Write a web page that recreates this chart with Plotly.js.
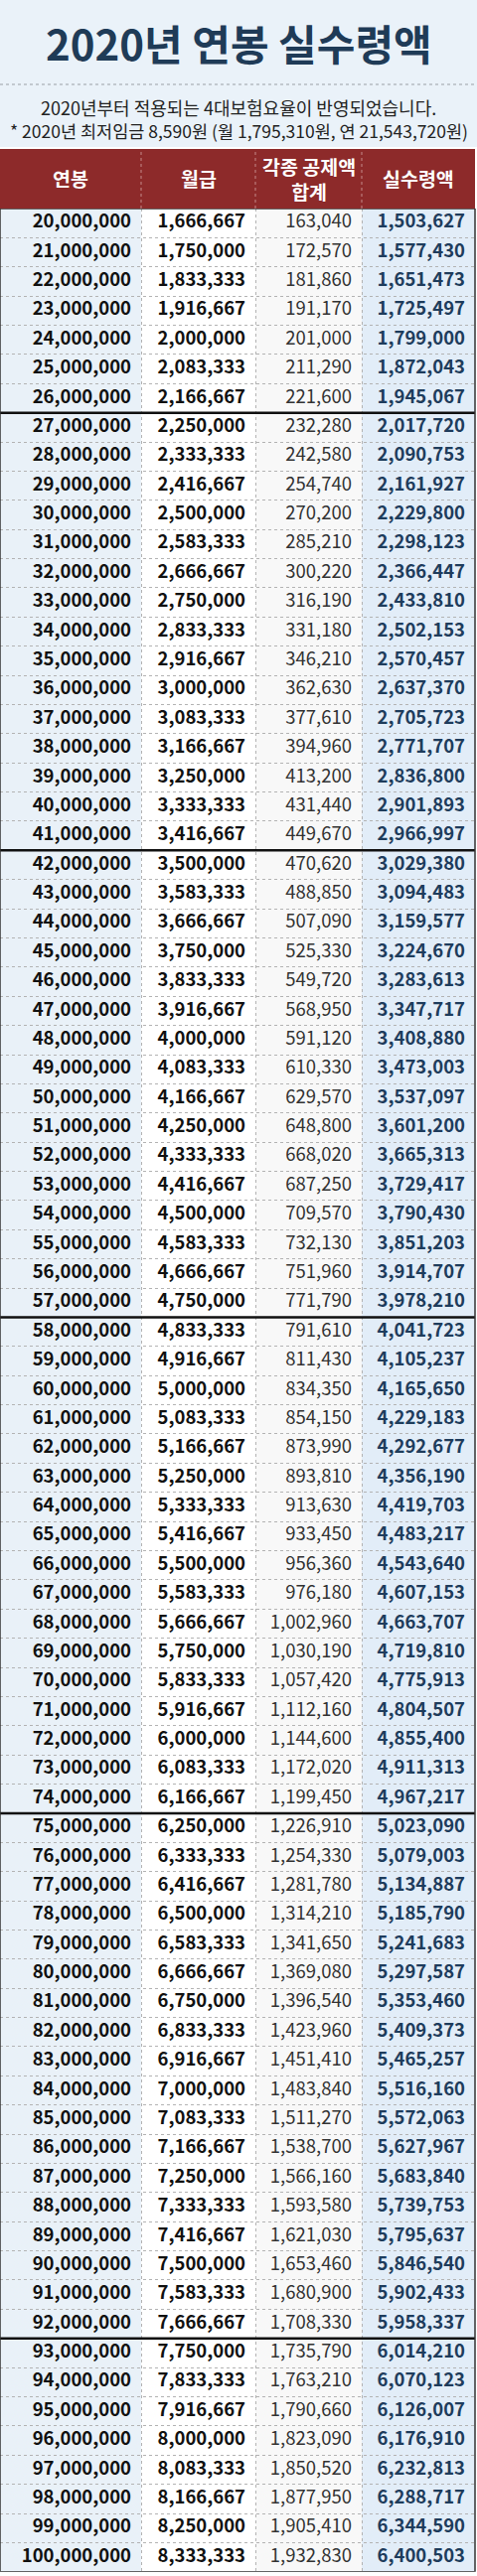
<!DOCTYPE html>
<html>
<head>
<meta charset="utf-8">
<script src="https://cdn.plot.ly/plotly-3.0.1.min.js"></script>
<style>
html,body{margin:0;padding:0;background:#fff;}
#chart{width:480px;height:2594px;}
</style>
</head>
<body>
<div id="chart"></div>
<script>
// ---- data ----
const annualSalary = [20000000,21000000,22000000,23000000,24000000,25000000,26000000,27000000,28000000,29000000,30000000,31000000,32000000,33000000,34000000,35000000,36000000,37000000,38000000,39000000,40000000,41000000,42000000,43000000,44000000,45000000,46000000,47000000,48000000,49000000,50000000,51000000,52000000,53000000,54000000,55000000,56000000,57000000,58000000,59000000,60000000,61000000,62000000,63000000,64000000,65000000,66000000,67000000,68000000,69000000,70000000,71000000,72000000,73000000,74000000,75000000,76000000,77000000,78000000,79000000,80000000,81000000,82000000,83000000,84000000,85000000,86000000,87000000,88000000,89000000,90000000,91000000,92000000,93000000,94000000,95000000,96000000,97000000,98000000,99000000,100000000];
const monthlyPay = [1666667,1750000,1833333,1916667,2000000,2083333,2166667,2250000,2333333,2416667,2500000,2583333,2666667,2750000,2833333,2916667,3000000,3083333,3166667,3250000,3333333,3416667,3500000,3583333,3666667,3750000,3833333,3916667,4000000,4083333,4166667,4250000,4333333,4416667,4500000,4583333,4666667,4750000,4833333,4916667,5000000,5083333,5166667,5250000,5333333,5416667,5500000,5583333,5666667,5750000,5833333,5916667,6000000,6083333,6166667,6250000,6333333,6416667,6500000,6583333,6666667,6750000,6833333,6916667,7000000,7083333,7166667,7250000,7333333,7416667,7500000,7583333,7666667,7750000,7833333,7916667,8000000,8083333,8166667,8250000,8333333];
const deductions = [163040,172570,181860,191170,201000,211290,221600,232280,242580,254740,270200,285210,300220,316190,331180,346210,362630,377610,394960,413200,431440,449670,470620,488850,507090,525330,549720,568950,591120,610330,629570,648800,668020,687250,709570,732130,751960,771790,791610,811430,834350,854150,873990,893810,913630,933450,956360,976180,1002960,1030190,1057420,1112160,1144600,1172020,1199450,1226910,1254330,1281780,1314210,1341650,1369080,1396540,1423960,1451410,1483840,1511270,1538700,1566160,1593580,1621030,1653460,1680900,1708330,1735790,1763210,1790660,1823090,1850520,1877950,1905410,1932830];
const netPay = [1503627,1577430,1651473,1725497,1799000,1872043,1945067,2017720,2090753,2161927,2229800,2298123,2366447,2433810,2502153,2570457,2637370,2705723,2771707,2836800,2901893,2966997,3029380,3094483,3159577,3224670,3283613,3347717,3408880,3473003,3537097,3601200,3665313,3729417,3790430,3851203,3914707,3978210,4041723,4105237,4165650,4229183,4292677,4356190,4419703,4483217,4543640,4607153,4663707,4719810,4775913,4804507,4855400,4911313,4967217,5023090,5079003,5134887,5185790,5241683,5297587,5353460,5409373,5465257,5516160,5572063,5627967,5683840,5739753,5795637,5846540,5902433,5958337,6014210,6070123,6126007,6176910,6232813,6288717,6344590,6400503];
const groupEndSalaries = [26000000,41000000,57000000,74000000,92000000];
const headerLabels = ["연봉","월급","각종 공제액<br>합계","실수령액"];
const titleText = "2020년 연봉 실수령액";
const noteLine1 = "2020년부터 적용되는 4대보험요율이 반영되었습니다.";
const noteLine2 = "* 2020년 최저임금 8,590원 (월 1,795,310원, 연 21,543,720원)";

// ---- layout constants ----
const W = 480, H = 2594;
const tableTop = 150, headerH = 60, rowH = 29.38;
const colEdges = [0, 142, 257, 364, 478];
const textPad = 10;
const bodyTop = tableTop + headerH;
const nRows = annualSalary.length;
const tableBottom = bodyTop + rowH * nRows;
const py = p => 1 - p / H;
const FONT = "Noto Sans CJK KR, Noto Sans, sans-serif";
const BODY_SIZE = 18.5;

const fmt = n => n.toLocaleString('en-US');
const rowIdx = annualSalary.map((_, i) => i);

const colStyles = [
  {vals: annualSalary, color: '#111111', weight: 'bold', fill: '#e9f1f8'},
  {vals: monthlyPay,   color: '#111111', weight: 'bold', fill: '#ffffff'},
  {vals: deductions,   color: '#333333', weight: 'normal', fill: '#f8f8f8'},
  {vals: netPay,       color: '#1e3c5c', weight: 'bold', fill: '#e2edf8'}
];

const traces = colStyles.map((c, k) => ({
  type: 'scatter', mode: 'text',
  x: rowIdx.map(() => colEdges[k + 1] - textPad),
  y: rowIdx,
  text: c.vals.map(fmt),
  textposition: 'middle left',
  textfont: {family: FONT, size: BODY_SIZE, color: c.color, weight: c.weight},
  hoverinfo: 'skip', cliponaxis: false
}));

const shapes = [
  {type: 'rect', xref: 'paper', yref: 'paper', x0: 0, x1: 1, y0: py(148), y1: py(0),
   fillcolor: '#eaf2f9', line: {width: 0}, layer: 'below'},
  {type: 'line', xref: 'paper', yref: 'paper', x0: 0, x1: 1, y0: py(85), y1: py(85),
   line: {color: '#9aa0a6', width: 1, dash: 'dot'}, layer: 'below'},
  // header band
  {type: 'rect', xref: 'x', yref: 'paper', x0: colEdges[0], x1: colEdges[4], y0: py(bodyTop), y1: py(tableTop),
   fillcolor: '#8d2a2a', line: {width: 0}, layer: 'below'}
];
// column fills
colStyles.forEach((c, k) => {
  shapes.push({type: 'rect', xref: 'x', yref: 'y', x0: colEdges[k], x1: colEdges[k + 1], y0: -0.5, y1: nRows - 0.5,
    fillcolor: c.fill, line: {width: 0}, layer: 'below'});
});
// header column separators
[1, 2, 3].forEach(k => {
  shapes.push({type: 'line', xref: 'x', yref: 'paper', x0: colEdges[k], x1: colEdges[k], y0: py(bodyTop), y1: py(tableTop),
    line: {color: '#c48a8a', width: 1, dash: 'dot'}, layer: 'above'});
});
// thick group separators
groupEndSalaries.forEach(s => {
  const i = annualSalary.indexOf(s);
  shapes.push({type: 'line', xref: 'x', yref: 'y', x0: colEdges[0], x1: colEdges[4], y0: i + 0.5, y1: i + 0.5,
    line: {color: '#111111', width: 2.5}, layer: 'above'});
});
// outer border of body
shapes.push({type: 'rect', xref: 'x', yref: 'y', x0: colEdges[0], x1: colEdges[4], y0: -0.5, y1: nRows - 0.5,
  line: {color: '#333333', width: 1.5}, layer: 'above'});

const annotations = [
  {xref: 'paper', yref: 'paper', x: 0.5, y: py(42), xanchor: 'center', yanchor: 'middle', showarrow: false,
   text: '<b>' + titleText + '</b>', font: {family: FONT, size: 42, color: '#1f3b57'}},
  {xref: 'paper', yref: 'paper', x: 0.5, y: py(108), xanchor: 'center', yanchor: 'middle', showarrow: false,
   text: noteLine1, font: {family: FONT, size: 18, color: '#222222'}},
  {xref: 'paper', yref: 'paper', x: 0.5, y: py(132), xanchor: 'center', yanchor: 'middle', showarrow: false,
   text: noteLine2, font: {family: FONT, size: 17.5, color: '#222222'}}
];
headerLabels.forEach((h, k) => {
  annotations.push({xref: 'x', yref: 'paper', x: (colEdges[k] + colEdges[k + 1]) / 2, y: py(tableTop + headerH / 2),
    xanchor: 'center', yanchor: 'middle', showarrow: false,
    text: '<b>' + h + '</b>', font: {family: FONT, size: 19.5, color: '#ffffff'}});
});

const gridRows = [];
for (let i = 0; i < nRows - 1; i++) gridRows.push(i + 0.5);

const layout = {
  width: W, height: H,
  margin: {l: 0, r: 0, t: 0, b: 0},
  paper_bgcolor: '#ffffff', plot_bgcolor: 'rgba(0,0,0,0)',
  showlegend: false,
  xaxis: {range: [0, W], domain: [0, 1], fixedrange: true, showticklabels: false, ticks: '',
    tickvals: colEdges.slice(1, 4), showgrid: true, gridcolor: '#b3b3b3', griddash: 'dot', gridwidth: 1,
    zeroline: false, showline: false},
  yaxis: {range: [nRows - 0.5, -0.5], domain: [py(tableBottom), py(bodyTop)], fixedrange: true,
    showticklabels: false, ticks: '', tickvals: gridRows, showgrid: true, gridcolor: '#b3b3b3',
    griddash: 'dot', gridwidth: 1, zeroline: false, showline: false},
  shapes: shapes,
  annotations: annotations
};

Plotly.newPlot('chart', traces, layout, {staticPlot: true, displayModeBar: false});
</script>
</body>
</html>
